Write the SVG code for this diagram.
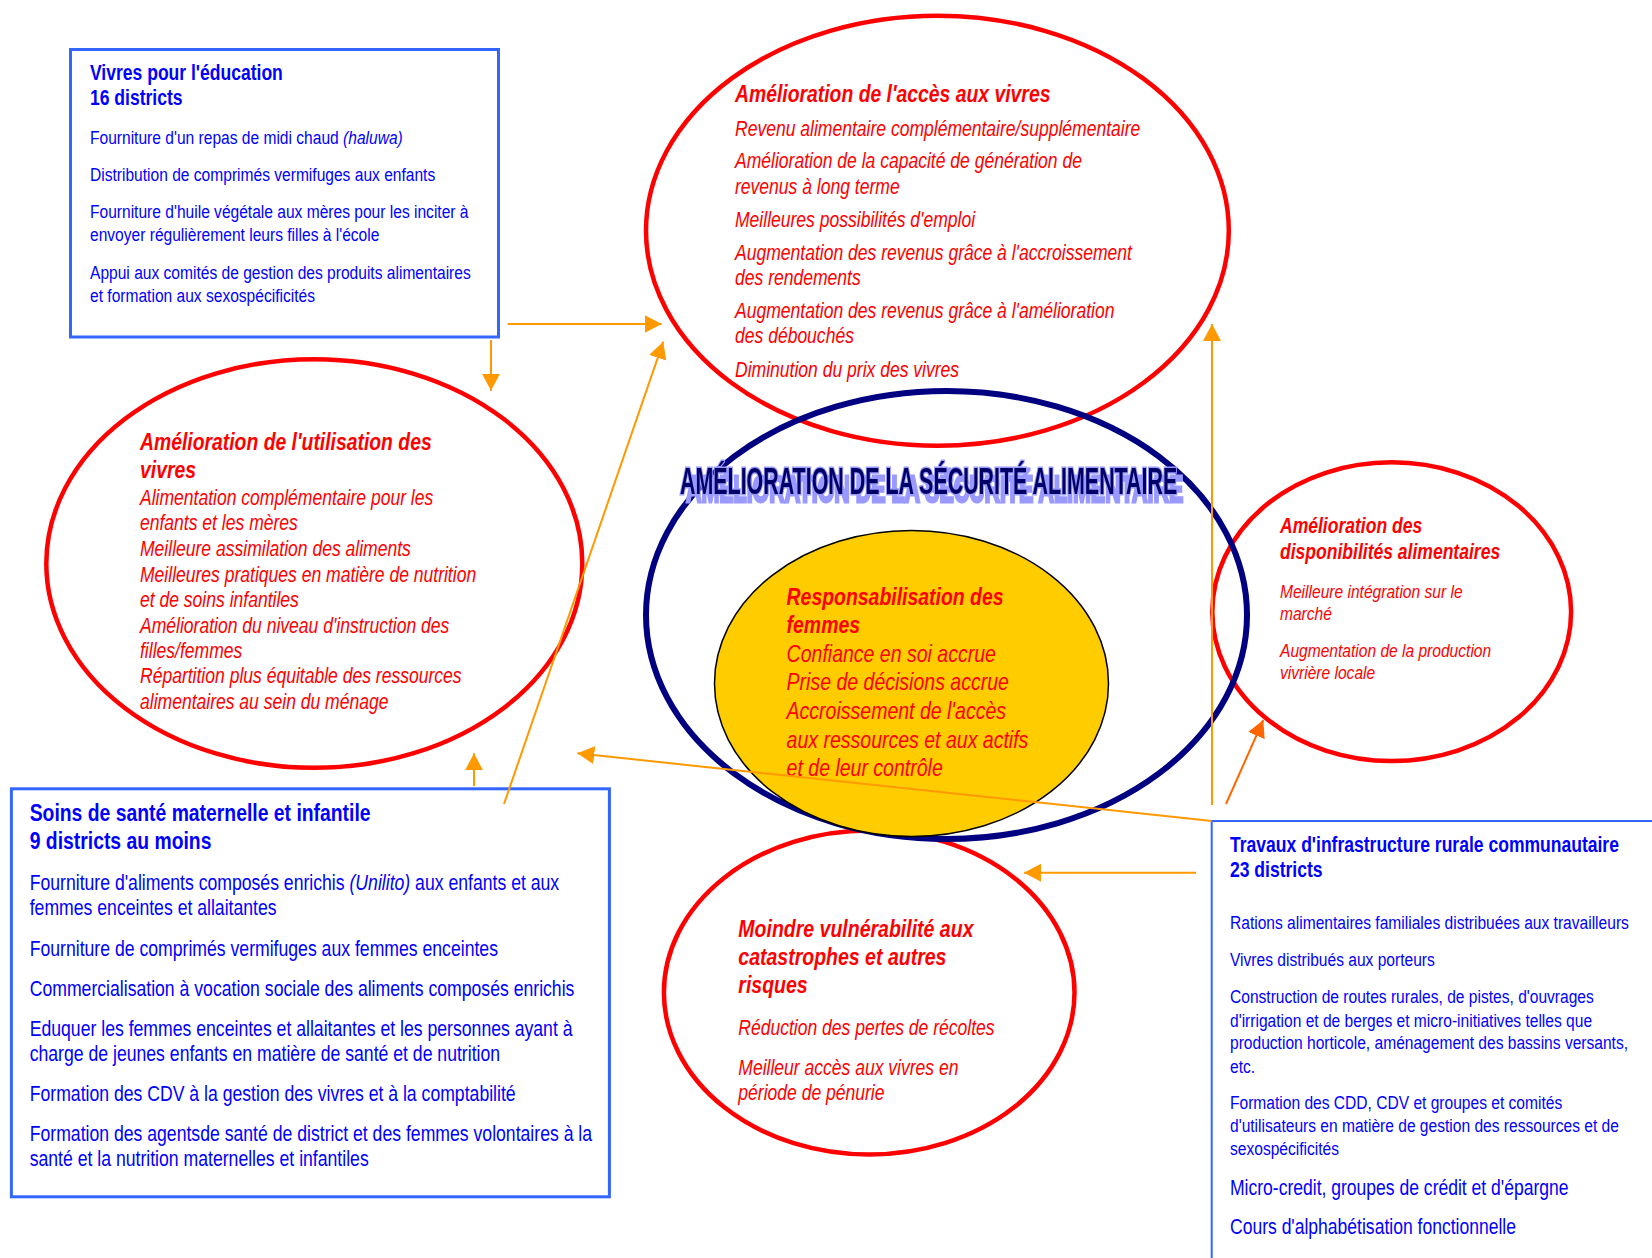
<svg xmlns="http://www.w3.org/2000/svg" width="1652" height="1258" viewBox="0 0 1652 1258">
<style>
.red{fill:none;stroke:#FF0000;stroke-width:4.5}
.box{fill:none;stroke:#3366FF;stroke-width:3}
.t{font-family:"Liberation Sans",Arial,sans-serif}
.bl{fill:#0000FF}
.rd{fill:#FF0000;font-style:italic}
.b{font-weight:bold}
.i{font-style:italic}
.conn{fill:none;stroke:#FF9900;stroke-width:2}
.conn2{fill:none;stroke:#FF6600;stroke-width:2}
</style>
<defs>
<marker id="ah" markerUnits="userSpaceOnUse" markerWidth="17" markerHeight="18" viewBox="0 0 17 18" refX="17" refY="9" orient="auto"><path d="M0,0 L17,9 L0,18 z" fill="#FF9900"/></marker>
<marker id="ah2" markerUnits="userSpaceOnUse" markerWidth="17" markerHeight="18" viewBox="0 0 17 18" refX="17" refY="9" orient="auto"><path d="M0,0 L17,9 L0,18 z" fill="#FF6600"/></marker>
<filter id="sh" x="-5%" y="-30%" width="115%" height="180%">
<feOffset in="SourceAlpha" dx="10.2" dy="8" result="o"/>
<feFlood flood-color="#9999FF"/>
<feComposite in2="o" operator="in" result="s"/>
<feMerge><feMergeNode in="s"/><feMergeNode in="SourceGraphic"/></feMerge>
</filter>
</defs>
<rect width="1652" height="1258" fill="#FFFFFF"/>

<g id="acces">
<ellipse class="red" cx="937.4" cy="230.7" rx="291.4" ry="215"/>
<g transform="translate(735,0) scale(0.82,1)" class="t rd">
<text class="b" y="101.7" font-size="23.6">Amélioration de l'accès aux vivres</text>
<text font-size="21.4"><tspan x="0" y="136">Revenu alimentaire complémentaire/supplémentaire</tspan><tspan x="0" y="168">Amélioration de la capacité de génération de</tspan><tspan x="0" y="194">revenus à long terme</tspan><tspan x="0" y="226.7">Meilleures possibilités d'emploi</tspan><tspan x="0" y="260">Augmentation des revenus grâce à l'accroissement</tspan><tspan x="0" y="285">des rendements</tspan><tspan x="0" y="318">Augmentation des revenus grâce à l'amélioration</tspan><tspan x="0" y="343">des débouchés</tspan><tspan x="0" y="376.7">Diminution du prix des vivres</tspan></text>
</g>
</g>

<g id="utilisation">
<ellipse class="red" cx="314.3" cy="563.5" rx="268" ry="204.3"/>
<g transform="translate(140,0) scale(0.82,1)" class="t rd">
<text class="b" font-size="23.6"><tspan x="0" y="450">Amélioration de l'utilisation des</tspan><tspan x="0" y="478">vivres</tspan></text>
<text font-size="21.4"><tspan x="0" y="505">Alimentation complémentaire pour les</tspan><tspan x="0" y="530">enfants et les mères</tspan><tspan x="0" y="556">Meilleure assimilation des aliments</tspan><tspan x="0" y="581.7">Meilleures pratiques en matière de nutrition</tspan><tspan x="0" y="606.7">et de soins infantiles</tspan><tspan x="0" y="633">Amélioration du niveau d'instruction des</tspan><tspan x="0" y="658">filles/femmes</tspan><tspan x="0" y="683">Répartition plus équitable des ressources</tspan><tspan x="0" y="709">alimentaires au sein du ménage</tspan></text>
</g>
</g>

<g id="disponibilites">
<ellipse class="red" cx="1391.7" cy="611.7" rx="179.4" ry="149.4"/>
<g transform="translate(1280,0) scale(0.82,1)" class="t rd">
<text class="b" font-size="21.4"><tspan x="0" y="533.3">Amélioration des</tspan><tspan x="0" y="559.3">disponibilités alimentaires</tspan></text>
<text font-size="19"><tspan x="0" y="597.7">Meilleure intégration sur le</tspan><tspan x="0" y="620">marché</tspan><tspan x="0" y="656.7">Augmentation de la production</tspan><tspan x="0" y="679.3">vivrière locale</tspan></text>
</g>
</g>

<g id="vulnerabilite">
<ellipse class="red" cx="869.2" cy="992.5" rx="205.3" ry="162"/>
<g transform="translate(738.3,0) scale(0.82,1)" class="t rd">
<text class="b" font-size="23.8"><tspan x="0" y="936.7">Moindre vulnérabilité aux</tspan><tspan x="0" y="965">catastrophes et autres</tspan><tspan x="0" y="993.3">risques</tspan></text>
<text font-size="21.4"><tspan x="0" y="1035">Réduction des pertes de récoltes</tspan><tspan x="0" y="1075">Meilleur accès aux vivres en</tspan><tspan x="0" y="1100">période de pénurie</tspan></text>
</g>
</g>

<g id="securite">
<ellipse cx="946.5" cy="615" rx="300.5" ry="224" fill="none" stroke="#000080" stroke-width="6"/>
<g transform="translate(680,493.5) scale(0.59,1)" class="t b" font-size="36.3">
<text x="0" y="0" fill="#000066" stroke="#9999FF" stroke-width="3" paint-order="stroke" filter="url(#sh)">AMÉLIORATION DE LA SÉCURITÉ ALIMENTAIRE</text>
</g>
</g>

<g id="femmes">
<ellipse cx="911.5" cy="683.5" rx="197" ry="153" fill="#FFCC00" stroke="#000000" stroke-width="1.5"/>
<g transform="translate(786.6,0) scale(0.82,1)" class="t rd">
<text class="b" font-size="23.7"><tspan x="0" y="605">Responsabilisation des</tspan><tspan x="0" y="633">femmes</tspan></text>
<text font-size="23.8"><tspan x="0" y="661.7">Confiance en soi accrue</tspan><tspan x="0" y="690">Prise de décisions accrue</tspan><tspan x="0" y="719">Accroissement de l'accès</tspan><tspan x="0" y="747.7">aux ressources et aux actifs</tspan><tspan x="0" y="776">et de leur contrôle</tspan></text>
</g>
</g>

<g id="education">
<rect class="box" x="70.5" y="49.5" width="428" height="287.5"/>
<g transform="translate(90,0) scale(0.82,1)" class="t bl">
<text class="b" font-size="21.4"><tspan x="0" y="80">Vivres pour l'éducation</tspan><tspan x="0" y="105">16 districts</tspan></text>
<text font-size="19"><tspan x="0" y="144">Fourniture d'un repas de midi chaud <tspan class="i">(haluwa)</tspan></tspan><tspan x="0" y="181">Distribution de comprimés vermifuges aux enfants</tspan><tspan x="0" y="218">Fourniture d'huile végétale aux mères pour les inciter à</tspan><tspan x="0" y="241">envoyer régulièrement leurs filles à l'école</tspan><tspan x="0" y="279">Appui aux comités de gestion des produits alimentaires</tspan><tspan x="0" y="302">et formation aux sexospécificités</tspan></text>
</g>
</g>

<g id="sante">
<rect class="box" x="11.4" y="788.8" width="598" height="408"/>
<g transform="translate(29.7,0) scale(0.82,1)" class="t bl">
<text class="b" font-size="23.6"><tspan x="0" y="820.7">Soins de santé maternelle et infantile</tspan><tspan x="0" y="849.3">9 districts au moins</tspan></text>
<text font-size="21.5"><tspan x="0" y="890">Fourniture d'aliments composés enrichis <tspan class="i">(Unilito)</tspan> aux enfants et aux</tspan><tspan x="0" y="915">femmes enceintes et allaitantes</tspan><tspan x="0" y="956">Fourniture de comprimés vermifuges aux femmes enceintes</tspan><tspan x="0" y="996">Commercialisation à vocation sociale des aliments composés enrichis</tspan><tspan x="0" y="1036">Eduquer les femmes enceintes et allaitantes et les personnes ayant à</tspan><tspan x="0" y="1061">charge de jeunes enfants en matière de santé et de nutrition</tspan><tspan x="0" y="1101">Formation des CDV à la gestion des vivres et à la comptabilité</tspan><tspan x="0" y="1141">Formation des agentsde santé de district et des femmes volontaires à la</tspan><tspan x="0" y="1166">santé et la nutrition maternelles et infantiles</tspan></text>
</g>
</g>

<g id="infrastructure">
<path d="M1211.7,1258 V821 H1652" fill="none" stroke="#3366FF" stroke-width="2"/>
<g transform="translate(1230,0) scale(0.82,1)" class="t bl">
<text class="b" font-size="21.4"><tspan x="0" y="851.7">Travaux d'infrastructure rurale communautaire</tspan><tspan x="0" y="876.7">23 districts</tspan></text>
<text font-size="19"><tspan x="0" y="929.3">Rations alimentaires familiales distribuées aux travailleurs</tspan><tspan x="0" y="966">Vivres distribués aux porteurs</tspan><tspan x="0" y="1003.3">Construction de routes rurales, de pistes, d'ouvrages</tspan><tspan x="0" y="1026.7">d'irrigation et de berges et micro-initiatives telles que</tspan><tspan x="0" y="1049.3">production horticole, aménagement des bassins versants,</tspan><tspan x="0" y="1072.7">etc.</tspan><tspan x="0" y="1109.3">Formation des CDD, CDV et groupes et comités</tspan><tspan x="0" y="1131.7">d'utilisateurs en matière de gestion des ressources et de</tspan><tspan x="0" y="1155">sexospécificités</tspan></text>
<text font-size="21.4"><tspan x="0" y="1195">Micro-credit, groupes de crédit et d'épargne</tspan><tspan x="0" y="1234.3">Cours d'alphabétisation fonctionnelle</tspan></text>
</g>
</g>

<g id="connectors">
<path class="conn" d="M507.7,324 H661.7" marker-end="url(#ah)"/>
<path class="conn" d="M491,340 V390.7" marker-end="url(#ah)"/>
<path class="conn" stroke-width="1.6" d="M504,804 L663.3,341.7" marker-end="url(#ah)"/>
<path class="conn" d="M474,786 V753.3" marker-end="url(#ah)"/>
<path class="conn" stroke-width="1.6" d="M1211.7,821 L577.3,753.3" marker-end="url(#ah)"/>
<path class="conn" d="M1196,872.7 H1024" marker-end="url(#ah)"/>
<path class="conn" d="M1212,805 V324" marker-end="url(#ah)"/>
<path class="conn2" d="M1226,804 L1263.3,720" marker-end="url(#ah2)"/>
</g>
</svg>
